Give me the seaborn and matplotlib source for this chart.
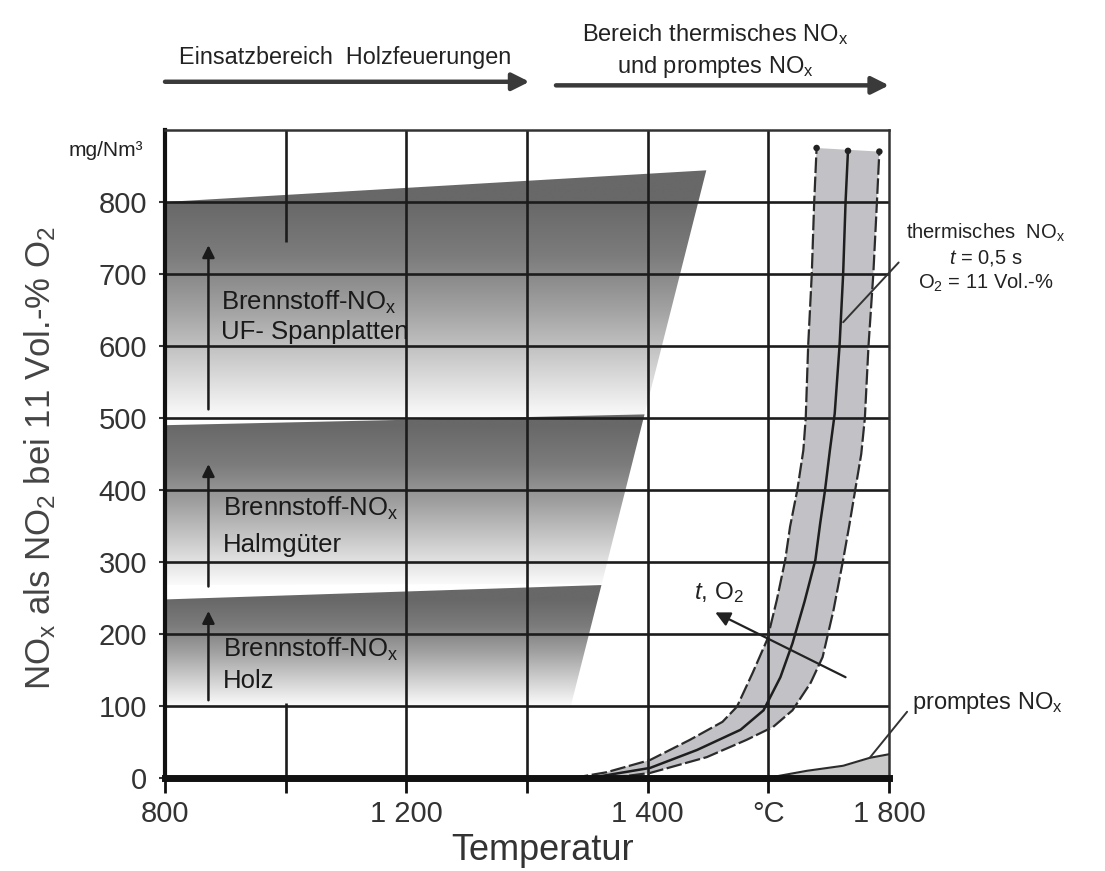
import numpy as np
import matplotlib
matplotlib.use("Agg")
import matplotlib.pyplot as plt
import seaborn as sns
from matplotlib.colors import LinearSegmentedColormap
from matplotlib.patches import Polygon

# ---------------- data ----------------
# x axis drawn in grid units (one unit per vertical grid line)
x_grid = [0, 1, 2, 3, 4, 5, 6]
x_labels = ["800", "", "1 200", "", "1 400", "°C", "1 800"]
y_ticks = [0, 100, 200, 300, 400, 500, 600, 700, 800]
grid1_gap = [104, 744]          # part of 2nd grid line hidden behind the fuel-NOx areas

# fuel-NOx areas (grid unit, mg/Nm3)
uf_x = [0, 0, 4.486, 3.967]
uf_y = [500, 800, 844, 500]
halm_x = [0, 0, 3.974, 3.62]
halm_y = [268, 490, 505, 270]
holz_x = [0, 0, 3.617, 3.363]
holz_y = [100, 248, 268, 100]

# thermal NOx band: left / middle / right curve
th_left_x = [3.38, 3.66, 4.02, 4.35, 4.62, 4.74, 4.87, 4.99, 5.07, 5.14, 5.18, 5.24, 5.29,
             5.31, 5.33, 5.36, 5.38, 5.40]
th_left_y = [0, 8, 25, 53, 78, 99, 146, 192, 247, 303, 349, 400, 455,
             500, 600, 700, 800, 875]
th_mid_x = [3.52, 4.02, 4.41, 4.77, 4.96, 5.10, 5.20, 5.30, 5.39, 5.43, 5.47, 5.51,
            5.55, 5.59, 5.62, 5.64, 5.66]
th_mid_y = [0, 14, 39, 67, 94, 140, 187, 245, 303, 354, 400, 455,
            506, 600, 700, 800, 871]
th_right_x = [3.69, 4.02, 4.49, 4.82, 5.04, 5.20, 5.35, 5.45, 5.54, 5.62, 5.67, 5.72,
              5.77, 5.80, 5.83, 5.87, 5.90, 5.92]
th_right_y = [0, 7, 29, 53, 71, 94, 132, 168, 233, 303, 350, 400,
              450, 500, 600, 700, 800, 870]

# prompt NOx
pr_x = [4.99, 5.32, 5.62, 5.84, 6.0]
pr_y = [0, 10, 17, 28, 33]

# ---------------- style ----------------
sns.set_theme(style="white")
plt.rcParams["font.family"] = ["Liberation Sans", "DejaVu Sans"]
plt.rcParams["mathtext.fontset"] = "custom"
plt.rcParams["mathtext.rm"] = "Liberation Sans"
plt.rcParams["mathtext.it"] = "Liberation Sans:italic"

fig = plt.figure(figsize=(11.05, 8.71), dpi=100)
ax = fig.add_axes([165 / 1105, 1 - 778 / 871, (889 - 165) / 1105, (778 - 130) / 871])

grad_cmap = LinearSegmentedColormap.from_list(
    "g", [(0, "#fbfbfb"), (0.25, "#cfcfcf"), (0.5, "#a2a2a2"), (0.75, "#7c7c7c"), (1.0, "#686868")])


def gradient_area(xs, ys):
    poly = Polygon(np.column_stack([xs, ys]), closed=True, transform=ax.transData,
                   facecolor="none", edgecolor="none")
    ax.add_patch(poly)
    y0 = min(ys)
    ytop_ref = ys[1]
    y1 = max(ys)
    yy = np.linspace(y0, y1, 400)
    t = np.clip((yy - y0) / (ytop_ref - y0), 0, 1)
    im = ax.imshow(t[:, None], extent=(0, max(xs), y0, y1), origin="lower",
                   aspect="auto", cmap=grad_cmap, vmin=0, vmax=1, zorder=1,
                   interpolation="bilinear")
    im.set_clip_path(poly)


gradient_area(uf_x, uf_y)
gradient_area(halm_x, halm_y)
gradient_area(holz_x, holz_y)

# thermal band fill
ax.fill(np.r_[th_left_x, th_right_x[::-1]], np.r_[th_left_y, th_right_y[::-1]],
        color="#c2c2c6", lw=0, zorder=1.5)
# prompt fill
ax.fill_between(pr_x, 0, pr_y, color="#c9c9c9", lw=0, zorder=1.5)

# grid
for y in y_ticks[1:]:
    ax.axhline(y, color="#1c1c1c", lw=1.9, zorder=2)
for x in x_grid[2:6]:
    ax.axvline(x, color="#1c1c1c", lw=1.9, zorder=2)
ax.vlines([x_grid[1], x_grid[1]], [0, grid1_gap[1]], [grid1_gap[0], 900],
          color="#1c1c1c", lw=1.9, zorder=2)

# curves
dash = (0, (7, 1.6))
sns.lineplot(x=th_left_x, y=th_left_y, sort=False, estimator=None, color="#2b2b2b",
             lw=1.6, linestyle=dash, ax=ax, zorder=3)
sns.lineplot(x=th_mid_x, y=th_mid_y, sort=False, estimator=None, color="#1e1e1e",
             lw=1.8, ax=ax, zorder=3)
sns.lineplot(x=th_right_x, y=th_right_y, sort=False, estimator=None, color="#2b2b2b",
             lw=1.6, linestyle=dash, ax=ax, zorder=3)
sns.scatterplot(x=[th_left_x[-1], th_mid_x[-1], th_right_x[-1]],
                y=[th_left_y[-1], th_mid_y[-1], th_right_y[-1]],
                color="#222", s=22, edgecolor="none", ax=ax, zorder=4)
sns.lineplot(x=pr_x, y=pr_y, sort=False, estimator=None, color="#2b2b2b", lw=1.5, ax=ax, zorder=3)

# arrows inside fuel areas
arr = dict(arrowstyle="-|>", lw=1.8, color="#1a1a1a", mutation_scale=18, shrinkA=0, shrinkB=0)
for y_from, y_to in [(512, 740), (266, 436), (108, 232)]:
    ax.annotate("", xy=(0.36, y_to), xytext=(0.36, y_from), arrowprops=arr, zorder=4)

lab_kw = dict(fontsize=18.5, color="#1a1a1a", ha="left", va="center", zorder=5)
ax.text(0.465, 660, "Brennstoff-NO$_\\mathrm{x}$", **lab_kw)
ax.text(0.465, 619, "UF- Spanplatten", **lab_kw)
ax.text(0.48, 375, "Brennstoff-NO$_\\mathrm{x}$", **lab_kw)
ax.text(0.48, 323, "Halmgüter", **lab_kw)
ax.text(0.48, 178, "Brennstoff-NO$_\\mathrm{x}$", **lab_kw)
ax.text(0.48, 135, "Holz", **lab_kw)

# t, O2 arrow
ax.annotate("", xy=(4.56, 230), xytext=(5.64, 140),
            arrowprops=dict(arrowstyle="-|>", lw=1.6, color="#222", mutation_scale=22,
                            shrinkA=0, shrinkB=0), zorder=4)
ax.text(4.38, 258, "$t$, O$_2$", fontsize=17.5, color="#222", ha="left", va="center", zorder=5)

# thermisches NOx annotation
ax.plot([5.62, 6.08], [633, 716], color="#333", lw=1.4, clip_on=False, zorder=4)
ax.text(6.80, 757, "thermisches  NO$_\\mathrm{x}$", fontsize=14.5, color="#222",
        ha="center", va="center", clip_on=False)
ax.text(6.80, 722, "$t$ = 0,5 s", fontsize=14.5, color="#222", ha="center", va="center", clip_on=False)
ax.text(6.80, 688, "O$_2$ = 11 Vol.-%", fontsize=14.5, color="#222", ha="center", va="center", clip_on=False)

# promptes NOx annotation
ax.plot([5.84, 6.15], [28, 92], color="#333", lw=1.4, clip_on=False, zorder=4)
ax.text(6.19, 104, "promptes NO$_\\mathrm{x}$", fontsize=17, color="#222", ha="left",
        va="center", clip_on=False)

# top ranges
top_arr = dict(arrowstyle="-|>", lw=3.2, color="#3a3a3a", mutation_scale=26, shrinkA=0, shrinkB=0)
ax.annotate("", xy=(3.02, 967), xytext=(0, 967), arrowprops=top_arr, annotation_clip=False)
ax.annotate("", xy=(6.0, 962), xytext=(3.24, 962), arrowprops=top_arr, annotation_clip=False)
ax.text(1.49, 1001, "Einsatzbereich  Holzfeuerungen", fontsize=16.8, color="#222",
        ha="center", va="center", clip_on=False)
ax.text(4.56, 1032, "Bereich thermisches NO$_\\mathrm{x}$", fontsize=17, color="#222",
        ha="center", va="center", clip_on=False)
ax.text(4.56, 988, "und promptes NO$_\\mathrm{x}$", fontsize=17, color="#222",
        ha="center", va="center", clip_on=False)

# unit label
ax.text(-0.18, 872, "mg/Nm³", fontsize=15, color="#222", ha="right", va="center", clip_on=False)

# axes
ax.set_xlim(0, 6)
ax.set_ylim(0, 900)
ax.set_xticks(x_grid, x_labels)
ax.set_yticks(y_ticks)
ax.tick_params(axis="x", length=11, width=2, direction="out", color="#111", pad=5,
               labelsize=21, labelcolor="#333", bottom=True)
ax.tick_params(axis="y", length=4, width=1.5, direction="out", color="#333", pad=9,
               labelsize=21, labelcolor="#333", left=True)
for side in ["top", "right"]:
    ax.spines[side].set_linewidth(1.8)
    ax.spines[side].set_color("#333")
ax.spines["left"].set_linewidth(3)
ax.spines["left"].set_color("#111")
ax.spines["bottom"].set_linewidth(5)
ax.spines["bottom"].set_color("#111")
ax.spines["bottom"].set_zorder(6)
ax.grid(False)

fig.text(40 / 1105, 1 - 458 / 871, "NO$_\\mathrm{x}$ als NO$_2$ bei 11 Vol.-% O$_2$",
         rotation=90, fontsize=25, color="#444", ha="center", va="center")
fig.text(543 / 1105, 1 - 850 / 871, "Temperatur", fontsize=26, color="#333",
         ha="center", va="center")

fig.savefig("out.png", dpi=100)
